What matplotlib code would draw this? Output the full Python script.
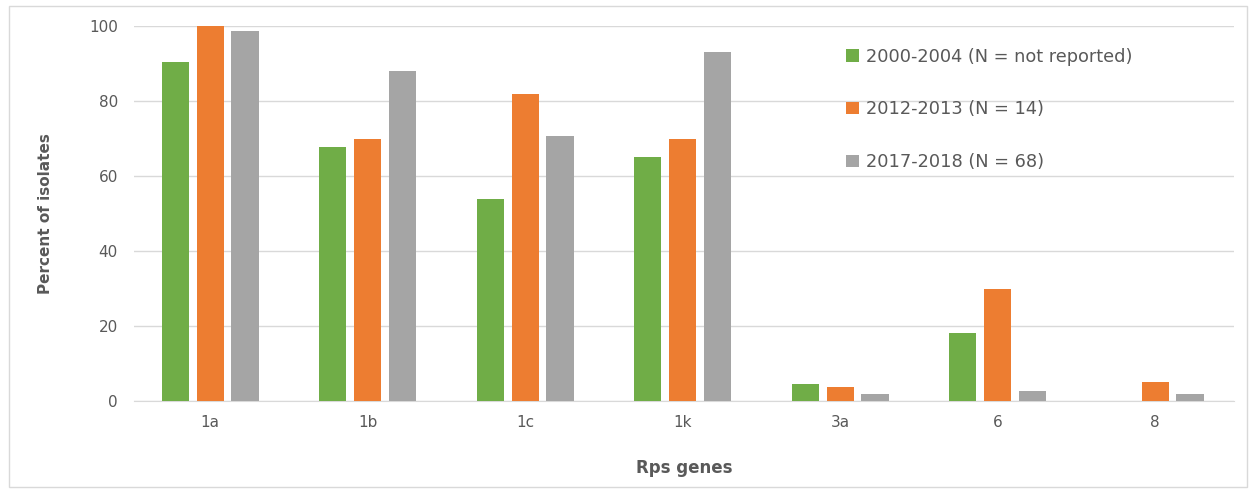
import numpy as np
import matplotlib
matplotlib.use("Agg")
import matplotlib.pyplot as plt
from matplotlib.patches import Rectangle

# data
genes = ["1a", "1b", "1c", "1k", "3a", "6", "8"]
labels = ["2000-2004 (N = not reported)", "2012-2013 (N = 14)", "2017-2018 (N = 68)"]
vals_2000 = [90.5, 67.7, 53.8, 65.2, 4.5, 18.0, 0.0]
vals_2012 = [100.0, 70.0, 81.8, 70.0, 3.6, 30.0, 5.0]
vals_2017 = [98.8, 88.0, 70.8, 93.0, 1.9, 2.7, 1.9]
colors = ["#70AD47", "#ED7D31", "#A5A5A5"]

fig = plt.figure(figsize=(12.53, 4.92), dpi=100)
fig.patches.append(Rectangle((0.007, 0.01), 0.988, 0.978, transform=fig.transFigure,
                             fill=False, edgecolor="#d9d9d9", linewidth=1))
ax = fig.add_axes([0.1073, 0.185, 0.8774, 0.762])

x = np.arange(len(genes))
w = 0.172
off = 0.222
for i, (vals, lab) in enumerate(zip([vals_2000, vals_2012, vals_2017], labels)):
    ax.bar(x + (i - 1) * off, vals, width=w, color=colors[i], label=lab, zorder=3)

ax.set_xlim(-0.48, 6.5)
ax.set_ylim(0, 100)
ax.set_yticks(range(0, 101, 20))
ax.yaxis.grid(True, color="#d9d9d9", linewidth=1, zorder=0)
for s in ["top", "right", "left"]:
    ax.spines[s].set_visible(False)
ax.spines["bottom"].set_color("#d9d9d9")
ax.tick_params(axis="both", length=0, colors="#595959", labelsize=11)
ax.tick_params(axis="x", pad=10)
ax.tick_params(axis="y", pad=12)
ax.set_xticks(x)
ax.set_xticklabels(genes)
ax.set_ylabel("Percent of isolates", fontsize=11, fontweight="bold", color="#595959", labelpad=26)
ax.set_xlabel("Rps genes", fontsize=12, fontweight="bold", color="#595959", labelpad=21)

leg = ax.legend(loc="upper left", bbox_to_anchor=(0.633, 0.985), frameon=False, fontsize=12.8,
                handlelength=0.7, handleheight=0.7, handletextpad=0.4, labelspacing=1.95)
for t in leg.get_texts():
    t.set_color("#595959")

fig.savefig("out.png", dpi=100)
